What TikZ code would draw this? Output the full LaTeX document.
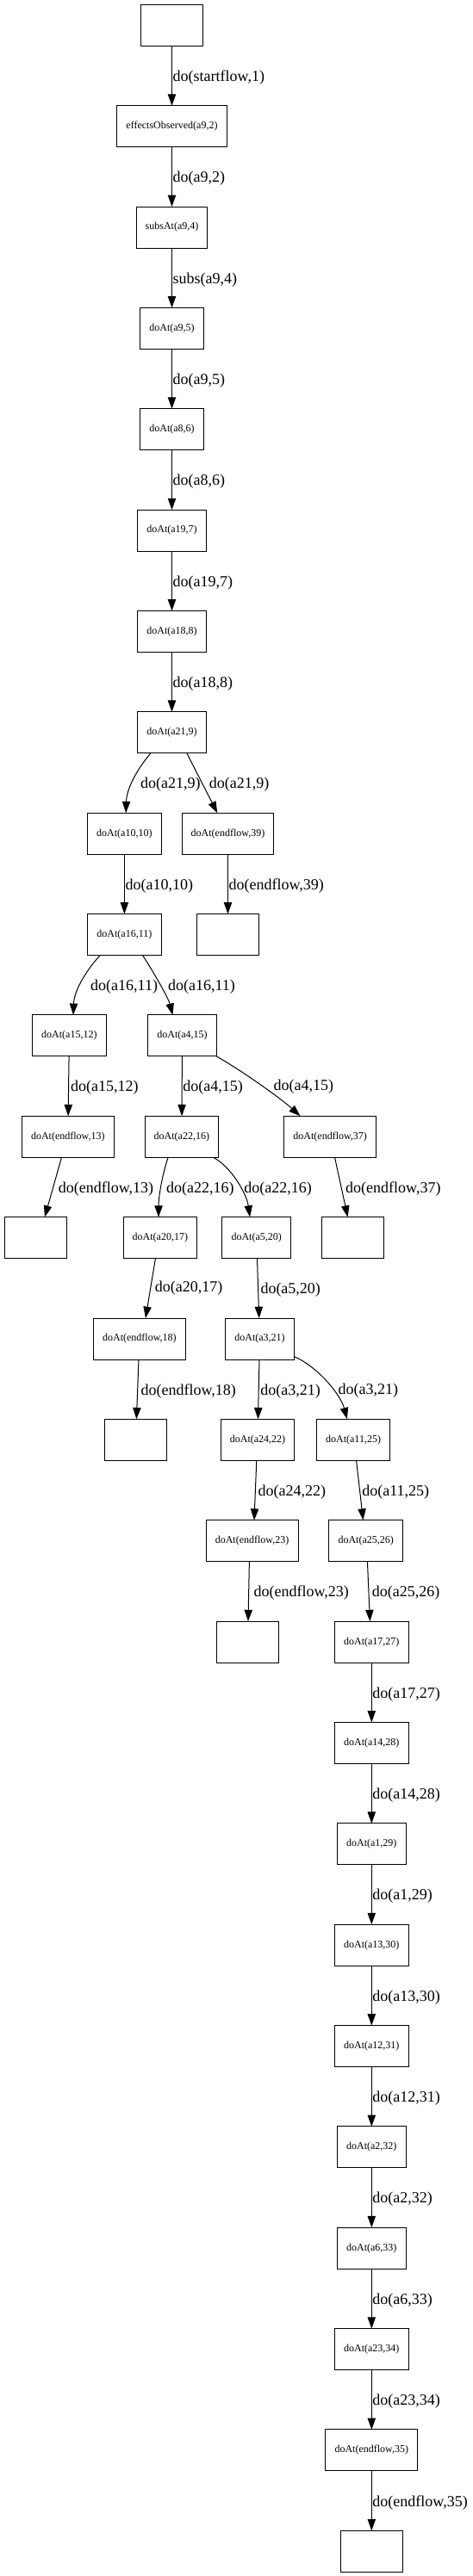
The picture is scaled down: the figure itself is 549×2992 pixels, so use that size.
\documentclass[tikz,border=0pt]{standalone}
\usepackage{fontspec}
\setmainfont{Liberation Serif}
\usepackage{tikz}
\usetikzlibrary{arrows.meta}

\begin{document}
\begin{tikzpicture}[x=0.75pt, y=-0.75pt,
    stepbox/.style={draw, line width=0.75pt, minimum width=54pt, minimum height=36pt,
      inner xsep=8pt, outer sep=0pt, font=\fontsize{9}{10}\selectfont},
    flow/.style={draw, line width=0.75pt, -{Triangle[length=10pt, width=7pt]}},
    lbl/.style={anchor=west, inner sep=0.5pt, yshift=-1.5pt, font=\fontsize{13.5}{15}\selectfont}]
  \useasboundingbox (0,0) rectangle (549,2992);

  % main column
  \node[stepbox] (start) at (199.5,29.3) {};
  \node[stepbox] (obs2) at (199.5,146.7) {effectsObserved(a9,2)};
  \node[stepbox] (subs4) at (199.5,264.0) {subsAt(a9,4)};
  \node[stepbox] (step5) at (199.5,381.4) {doAt(a9,5)};
  \node[stepbox] (step6) at (199.5,498.7) {doAt(a8,6)};
  \node[stepbox] (step7) at (199.5,616.1) {doAt(a19,7)};
  \node[stepbox] (step8) at (199.5,733.5) {doAt(a18,8)};
  \node[stepbox] (step9) at (199.5,850.8) {doAt(a21,9)};

  % branches
  \node[stepbox] (step10) at (144.4,968.2) {doAt(a10,10)};
  \node[stepbox] (step39) at (264.5,968.2) {doAt(endflow,39)};
  \node[stepbox] (step11) at (144.4,1085.5) {doAt(a16,11)};
  \node[stepbox] (end39) at (264.5,1085.5) {};
  \node[stepbox] (step12) at (80.4,1202.9) {doAt(a15,12)};
  \node[stepbox] (step15) at (211.5,1202.9) {doAt(a4,15)};
  \node[stepbox] (step13) at (78.8,1320.3) {doAt(endflow,13)};
  \node[stepbox] (step16) at (210.9,1320.3) {doAt(a22,16)};
  \node[stepbox] (step37) at (383.2,1320.3) {doAt(endflow,37)};
  \node[stepbox] (end13) at (41.4,1437.6) {};
  \node[stepbox] (step17) at (185.9,1437.6) {doAt(a20,17)};
  \node[stepbox] (step20) at (297.7,1437.6) {doAt(a5,20)};
  \node[stepbox] (end37) at (409.6,1437.6) {};
  \node[stepbox] (step18) at (161.9,1555.0) {doAt(endflow,18)};
  \node[stepbox] (step21) at (301.5,1555.0) {doAt(a3,21)};
  \node[stepbox] (end18) at (157.5,1672.3) {};
  \node[stepbox] (step22) at (299.0,1672.3) {doAt(a24,22)};
  \node[stepbox] (step25) at (410.1,1672.3) {doAt(a11,25)};
  \node[stepbox] (step23) at (292.6,1789.7) {doAt(endflow,23)};
  \node[stepbox] (step26) at (424.7,1789.7) {doAt(a25,26)};
  \node[stepbox] (end23) at (287.5,1907.1) {};

  % long tail
  \node[stepbox] (step27) at (431.3,1907.1) {doAt(a17,27)};
  \node[stepbox] (step28) at (431.3,2024.4) {doAt(a14,28)};
  \node[stepbox] (step29) at (431.3,2141.8) {doAt(a1,29)};
  \node[stepbox] (step30) at (431.3,2259.1) {doAt(a13,30)};
  \node[stepbox] (step31) at (431.3,2376.5) {doAt(a12,31)};
  \node[stepbox] (step32) at (431.3,2493.9) {doAt(a2,32)};
  \node[stepbox] (step33) at (431.3,2611.2) {doAt(a6,33)};
  \node[stepbox] (step34) at (431.3,2728.6) {doAt(a23,34)};
  \node[stepbox] (step35) at (431.3,2845.9) {doAt(endflow,35)};
  \node[stepbox] (end35) at (431.3,2963.3) {};

  % edges
  \draw[flow] (start) -- (obs2) node[lbl, midway] {do(startflow,1)};
  \draw[flow] (obs2) -- (subs4) node[lbl, midway] {do(a9,2)};
  \draw[flow] (subs4) -- (step5) node[lbl, midway] {subs(a9,4)};
  \draw[flow] (step5) -- (step6) node[lbl, midway] {do(a9,5)};
  \draw[flow] (step6) -- (step7) node[lbl, midway] {do(a8,6)};
  \draw[flow] (step7) -- (step8) node[lbl, midway] {do(a19,7)};
  \draw[flow] (step8) -- (step9) node[lbl, midway] {do(a18,8)};
  \draw[flow] ([xshift=-18.5pt]step9.south) .. controls +(-14.8,17.7) and +(0.9,-29.3) .. ([xshift=1.3pt]step10.north)
    node[lbl, pos=.5, xshift=5pt, yshift=-3.2pt] {do(a21,9)};
  \draw[flow] ([xshift=13pt]step9.south) -- ([xshift=-9.2pt]step39.north)
    node[lbl, midway, xshift=5.4pt] {do(a21,9)};
  \draw[flow] (step10) -- (step11) node[lbl, midway] {do(a10,10)};
  \draw[flow] (step39) -- (end39) node[lbl, midway] {do(endflow,39)};
  \draw[flow] ([xshift=-21.1pt]step11.south) .. controls +(-14,15) and +(1,-30) .. ([xshift=3.5pt]step12.north)
    node[lbl, pos=.5, xshift=6.2pt, yshift=-4.5pt] {do(a16,11)};
  \draw[flow] ([xshift=15.8pt]step11.south) .. controls +(10,15) and +(-5,-20) .. ([xshift=-8.3pt]step15.north)
    node[lbl, pos=.5, xshift=6.8pt, yshift=-1.7pt] {do(a16,11)};
  \draw[flow] (step12) -- (step13) node[lbl, midway, xshift=1pt] {do(a15,12)};
  \draw[flow] (step15) -- (step16) node[lbl, midway] {do(a4,15)};
  \draw[flow] (step15.south east) .. controls +(30,17) and +(-22,-20) .. ([xshift=-26pt]step37.north)
    node[lbl, pos=.5, xshift=10.2pt] {do(a4,15)};
  \draw[flow] ([xshift=-5.5pt]step13.south) -- ([xshift=7.9pt]end13.north)
    node[lbl, midway, xshift=3.7pt] {do(endflow,13)};
  \draw[flow] ([xshift=-11.8pt]step16.south) .. controls +(-6,17) and +(0,-25) .. ([xshift=-1.4pt]step17.north)
    node[lbl, pos=.5, xshift=3.5pt, yshift=-2.5pt] {do(a22,16)};
  \draw[flow] ([xshift=27.4pt]step16.south) .. controls +(20,10) and +(-4,-28) .. ([xshift=-5.7pt]step20.north)
    node[lbl, pos=.5, xshift=5.5pt, yshift=-5.3pt] {do(a22,16)};
  \draw[flow] ([xshift=4pt]step37.south) -- ([xshift=-4.5pt]end37.north)
    node[lbl, midway, xshift=3pt] {do(endflow,37)};
  \draw[flow] ([xshift=-4.1pt]step17.south) -- ([xshift=5.3pt]step18.north)
    node[lbl, midway, xshift=3pt, yshift=1.3pt] {do(a20,17)};
  \draw[flow] (step20) -- (step21) node[lbl, midway, xshift=1.3pt] {do(a5,20)};
  \draw[flow] (step18) -- (end18) node[lbl, midway, xshift=2pt] {do(endflow,18)};
  \draw[flow] (step21) -- (step22) node[lbl, midway, xshift=.8pt] {do(a3,21)};
  \draw[flow] ([yshift=2.5pt]step21.south east) .. controls +(25,10) and +(-8,-30) .. ([xshift=-5.4pt]step25.north)
    node[lbl, pos=.5, xshift=9.8pt, yshift=-6.7pt] {do(a3,21)};
  \draw[flow] ([xshift=-.9pt]step22.south) -- ([xshift=1.8pt]step23.north)
    node[lbl, midway, xshift=1.5pt] {do(a24,22)};
  \draw[flow] ([xshift=2.6pt]step25.south) -- ([xshift=-2.4pt]step26.north)
    node[lbl, midway, xshift=1.2pt] {do(a11,25)};
  \draw[flow] ([xshift=-2.4pt]step23.south) -- (end23)
    node[lbl, midway, xshift=3.5pt] {do(endflow,23)};
  \draw[flow] ([xshift=1.3pt]step26.south) -- ([xshift=-1.4pt]step27.north)
    node[lbl, midway, xshift=2pt] {do(a25,26)};
  \draw[flow] (step27) -- (step28) node[lbl, midway] {do(a17,27)};
  \draw[flow] (step28) -- (step29) node[lbl, midway] {do(a14,28)};
  \draw[flow] (step29) -- (step30) node[lbl, midway] {do(a1,29)};
  \draw[flow] (step30) -- (step31) node[lbl, midway] {do(a13,30)};
  \draw[flow] (step31) -- (step32) node[lbl, midway] {do(a12,31)};
  \draw[flow] (step32) -- (step33) node[lbl, midway] {do(a2,32)};
  \draw[flow] (step33) -- (step34) node[lbl, midway] {do(a6,33)};
  \draw[flow] (step34) -- (step35) node[lbl, midway] {do(a23,34)};
  \draw[flow] (step35) -- (end35) node[lbl, midway] {do(endflow,35)};
\end{tikzpicture}
\end{document}
